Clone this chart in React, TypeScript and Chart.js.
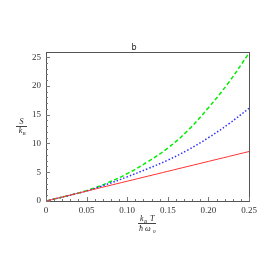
import React, { useEffect, useRef } from "react";
import { Chart, registerables } from "chart.js";

Chart.register(...registerables);

const xValues = [0, 0.025, 0.05, 0.075, 0.1, 0.125, 0.15, 0.175, 0.2, 0.225, 0.25];
const redSeries = [0, 0.86, 1.72, 2.58, 3.44, 4.3, 5.16, 6.02, 6.88, 7.74, 8.6];
const blueSeries = [0, 0.85, 1.75, 2.9, 4.2, 5.6, 7.1, 8.9, 11.0, 13.4, 16.1];
const greenSeries = [0, 0.86, 1.8, 3.1, 4.75, 6.8, 9.2, 12.3, 16.2, 20.6, 25.7];
const xTicks = [0, 0.05, 0.1, 0.15, 0.2, 0.25];
const xTickLabels = ["0", "0.05", "0.10", "0.15", "0.20", "0.25"];
const yTicks = [0, 5, 10, 15, 20, 25];
const titleText = "b";

const toPts = (ys: number[]) => xValues.map((x, i) => ({ x, y: ys[i] }));

const decor = {
  id: "decor",
  afterDraw(chart: any) {
    const { ctx, chartArea: a, scales } = chart;
    const xs = scales.x;
    const ys = scales.y;
    ctx.save();
    ctx.strokeStyle = "#555";
    ctx.lineWidth = 1;
    ctx.strokeRect(Math.round(a.left) + 0.5, Math.round(a.top) + 0.5, Math.round(a.right - a.left), Math.round(a.bottom - a.top));
    // minor ticks
    ctx.strokeStyle = "#777";
    for (let v = 0; v <= 25; v += 1) {
      const y = Math.round(ys.getPixelForValue(v)) + 0.5;
      const len = v % 5 === 0 ? 4 : 2;
      ctx.beginPath();
      ctx.moveTo(a.left, y);
      ctx.lineTo(a.left + len, y);
      ctx.stroke();
    }
    for (let i = 0; i <= 25; i++) {
      const v = i * 0.01;
      const x = Math.round(xs.getPixelForValue(v)) + 0.5;
      const len = i % 5 === 0 ? 4 : 2;
      ctx.beginPath();
      ctx.moveTo(x, a.bottom);
      ctx.lineTo(x, a.bottom - len);
      ctx.stroke();
    }
    // title
    ctx.fillStyle = "#222";
    ctx.font = "8px 'DejaVu Sans'";
    ctx.textAlign = "center";
    ctx.textBaseline = "alphabetic";
    ctx.fillText(titleText, 134, 50);
    // y label
    ctx.strokeStyle = "#444";
    ctx.font = "italic 8px 'Liberation Serif'";
    ctx.fillText("S", 21.5, 124);
    ctx.beginPath();
    ctx.moveTo(16, 126.5);
    ctx.lineTo(27, 126.5);
    ctx.stroke();
    ctx.fillText("k", 20.5, 133);
    ctx.font = "italic 5px 'Liberation Serif'";
    ctx.fillText("B", 24, 135);
    // x label
    ctx.font = "italic 8px 'Liberation Serif'";
    ctx.textAlign = "left";
    ctx.fillText("k", 140, 220.5);
    ctx.font = "italic 5px 'Liberation Serif'";
    ctx.fillText("B", 144, 222.5);
    ctx.font = "italic 8px 'Liberation Serif'";
    ctx.fillText("T", 150, 220.5);
    ctx.beginPath();
    ctx.moveTo(138, 223.5);
    ctx.lineTo(156, 223.5);
    ctx.stroke();
    ctx.fillText("ħ ω", 139, 231);
    ctx.font = "italic 5px 'Liberation Serif'";
    ctx.fillText("0", 153, 233);
    ctx.restore();
  },
};

export default function App() {
  const ref = useRef<HTMLCanvasElement>(null);
  useEffect(() => {
    if (!ref.current) return;
    const chart = new Chart(ref.current, {
      type: "line",
      data: {
        datasets: [
          { data: toPts(redSeries), borderColor: "#ff3030", borderWidth: 1, pointRadius: 0, tension: 0.4, fill: false },
          { data: toPts(blueSeries), borderColor: "#3030ff", borderWidth: 1.5, borderDash: [1.5, 2], pointRadius: 0, tension: 0.4, fill: false },
          { data: toPts(greenSeries), borderColor: "#00ee00", borderWidth: 1.5, borderDash: [4, 2.5], pointRadius: 0, tension: 0.4, fill: false },
        ],
      },
      options: {
        responsive: false,
        animation: false,
        events: [],
        layout: { padding: { left: 0, top: 52, right: 28, bottom: 0 } },
        plugins: { legend: { display: false }, tooltip: { enabled: false }, title: { display: false } },
        scales: {
          x: {
            type: "linear",
            min: 0,
            max: 0.25,
            afterBuildTicks: (s: any) => { s.ticks = xTicks.map((v) => ({ value: v })); },
            afterFit: (s: any) => { s.height = 76; },
            grid: { display: false, drawTicks: false },
            border: { display: false },
            ticks: {
              padding: 4,
              color: "#333",
              font: { family: "'Liberation Serif'", size: 9 },
              maxRotation: 0,
              callback: (v: any) => { const i = xTicks.indexOf(Number(v)); return i >= 0 ? xTickLabels[i] : ""; },
            },
          },
          y: {
            type: "linear",
            min: 0,
            max: 25.9,
            afterBuildTicks: (s: any) => { s.ticks = yTicks.map((v) => ({ value: v })); },
            afterFit: (s: any) => { s.width = 46; },
            grid: { display: false, drawTicks: false },
            border: { display: false },
            ticks: { padding: 5, color: "#333", font: { family: "'Liberation Serif'", size: 9 } },
          },
        },
      },
      plugins: [decor],
    });
    return () => chart.destroy();
  }, []);
  return (
    <div style={{ position: "fixed", left: 0, top: 0, width: 277, height: 277, background: "#fff" }}>
      <canvas ref={ref} width={277} height={277} />
    </div>
  );
}
